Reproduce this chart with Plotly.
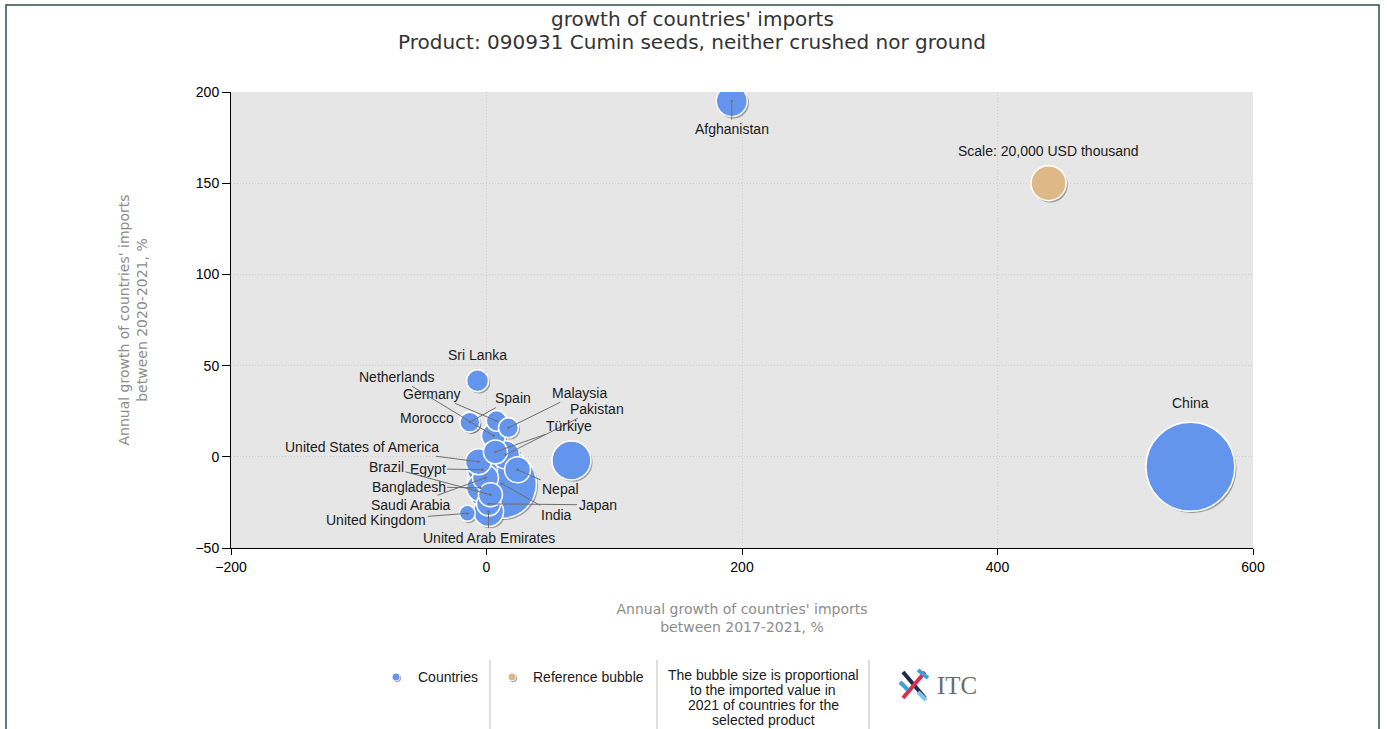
import plotly.graph_objects as go

# growth of countries' imports, cumin seeds (HS 090931)
countries = ["Afghanistan", "China", "Sri Lanka", "Morocco", "Spain", "Germany",
             "Netherlands", "Malaysia", "Pakistan", "Türkiye", "", "India", "Nepal",
             "Japan", "United Arab Emirates", "United Kingdom", "Saudi Arabia",
             "Bangladesh", "Egypt", "United States of America", "Brazil"]
growth_2017_2021 = [192, 551, -7, -13.3, -13, 7.8, 5.5, 17.2, 14.9, 7, 66.5, 12.1, 24.3,
                    1.6, 1.6, -15, -0.8, -4.7, -3.1, -6.3, 3.1]
growth_2020_2021 = [195, -5.5, 41.7, 19.2, 19, 19.7, 11.5, 15.9, 1.1, 2.7, -2, -14.8, -7.1,
                    -25.8, -30, -31, -11.5, -17, -7.1, -2.7, -20.8]
import_value_2021 = [15700, 129300, 7900, 6500, 6500, 6900, 9400, 6500, 12800, 9400, 24800,
                     77700, 11000, 9400, 14700, 4200, 11000, 12800, 14700, 11000, 9400]

ref_label = "Scale: 20,000 USD thousand"
ref_x = [440]
ref_y = [150]
ref_value = [20000]

# label placement: pixel offset of the label from the bubble centre, leader line or not
label_offsets = {
    "Afghanistan": (0, 28, True), "China": (0, -64, False), "Sri Lanka": (0, -26, False),
    "Morocco": (-43, -4, False), "Spain": (43, -24, True), "Germany": (-64, -27, True),
    "Netherlands": (-97, -59, True), "Malaysia": (71, -35, True), "Pakistan": (91, -46, True),
    "Türkiye": (74, -26, True), "India": (55, 31, True), "Nepal": (43, 19, True),
    "Japan": (109, 1, True), "United Arab Emirates": (0, 26, True),
    "United Kingdom": (-91, 7, True), "Saudi Arabia": (-74, 27, True),
    "Bangladesh": (-72, -1, True), "Egypt": (-55, -1, True),
    "United States of America": (-116, -15, True), "Brazil": (-104, -28, True),
}

BLUE = "#6495ED"
TAN = "#DEB887"
SIZEREF = 2 * 20000 / 35 ** 2   # reference bubble ~35 px across

order = sorted(range(len(countries)), key=lambda i: -import_value_2021[i])
xs = [growth_2017_2021[i] for i in order]
ys = [growth_2020_2021[i] for i in order]
vals = [import_value_2021[i] for i in order]
names = [countries[i] for i in order]

fig = go.Figure()

# soft drop shadows
fig.add_trace(go.Scatter(
    x=[v + 1.3 for v in xs + ref_x], y=[v - 1.0 for v in ys + ref_y], mode="markers",
    marker=dict(size=vals + ref_value, sizemode="area", sizeref=SIZEREF, opacity=1,
                color="rgba(70,70,70,0.45)", line=dict(width=0)),
    hoverinfo="skip", showlegend=False))

fig.add_trace(go.Scatter(
    x=xs, y=ys, mode="markers", text=names, name="Countries",
    marker=dict(size=vals, sizemode="area", sizeref=SIZEREF, color=BLUE, opacity=1,
                line=dict(color="white", width=1.5)),
    hovertemplate="%{text}<br>%{x}%, %{y}%<extra></extra>", showlegend=False))

fig.add_trace(go.Scatter(
    x=ref_x, y=ref_y, mode="markers", name="Reference bubble",
    marker=dict(size=ref_value, sizemode="area", sizeref=SIZEREF, color=TAN, opacity=1,
                line=dict(color="white", width=1.5)),
    hoverinfo="skip", showlegend=False))

label_font = dict(family="Liberation Sans, Arial", size=14, color="#1a1a1a")
for c, x, y in zip(countries, growth_2017_2021, growth_2020_2021):
    if c not in label_offsets:
        continue
    ax, ay, arrow = label_offsets[c]
    if arrow:
        fig.add_annotation(x=x, y=y, text=c, showarrow=True, ax=ax, ay=ay,
                           arrowhead=6, arrowsize=0.6, arrowwidth=1, arrowcolor="#6e6e6e",
                           standoff=0, font=label_font)
    else:
        fig.add_annotation(x=x, y=y, text=c, showarrow=False, xshift=ax, yshift=-ay,
                           font=label_font)
fig.add_annotation(x=ref_x[0], y=ref_y[0], text=ref_label, showarrow=False, yshift=32,
                   font=label_font)

# page pixel helpers (body margin is removed by the post script)
W, H = 1387, 729
L, R, T, B = 231, 1253, 92, 548


def px(xp):
    return (xp - L) / (R - L)


def py(yp):
    return (B - yp) / (B - T)


shapes = []
# outer frame
shapes.append(dict(type="rect", xref="paper", yref="paper", x0=px(6), x1=px(1379),
                   y0=py(780), y1=py(5), line=dict(color="#2f4f4f", width=1.5)))
# legend separators
for sx in (490, 657, 869):
    shapes.append(dict(type="line", xref="paper", yref="paper", x0=px(sx), x1=px(sx),
                       y0=py(740), y1=py(660), line=dict(color="#bdbdbd", width=1)))
# legend dots
for cx, col in ((396, BLUE), (512, TAN)):
    shapes.append(dict(type="circle", xref="paper", yref="paper", xsizemode="pixel",
                       ysizemode="pixel", xanchor=px(cx + 1), yanchor=py(678),
                       x0=-4, x1=4, y0=-4, y1=4, fillcolor="#9a9a9a", line=dict(width=0)))
    shapes.append(dict(type="circle", xref="paper", yref="paper", xsizemode="pixel",
                       ysizemode="pixel", xanchor=px(cx), yanchor=py(677),
                       x0=-4, x1=4, y0=-4, y1=4, fillcolor=col,
                       line=dict(color="white", width=0.8)))
# ITC logo mark
for (x0, y0, x1, y1, col) in ((903, 672, 925, 698, "#1f2a4a"), (903, 698, 925, 672, "#d6304f"),
                              (900, 682, 908, 690, "#3ea0d8"), (918, 670, 928, 678, "#3ea0d8"),
                              (918, 692, 926, 700, "#7fc4ea")):
    shapes.append(dict(type="line", xref="paper", yref="paper", x0=px(x0), x1=px(x1),
                       y0=py(y0), y1=py(y1), line=dict(color=col, width=4)))

foot_font = dict(family="Liberation Sans, Arial", size=14, color="#1a1a1a")
annots = [
    dict(x=px(416), y=py(677), text="Countries", xanchor="left"),
    dict(x=px(531), y=py(677), text="Reference bubble", xanchor="left"),
]
note_lines = ["The bubble size is proportional", "to the imported value in",
              "2021 of countries for the", "selected product"]
for k, line in enumerate(note_lines):
    annots.append(dict(x=px(763), y=py(675 + 15 * k), text=line, xanchor="center"))
for a in annots:
    fig.add_annotation(xref="paper", yref="paper", showarrow=False, font=foot_font,
                       yanchor="middle", **a)
fig.add_annotation(xref="paper", yref="paper", x=px(935), y=py(685), xanchor="left",
                   yanchor="middle", text="ITC", showarrow=False,
                   font=dict(family="Liberation Serif, serif", size=25, color="#6b6b6b"))

title_font = dict(family="DejaVu Sans", size=20, color="#333333")
for yy, line in ((19, "growth of countries' imports"),
                 (42, "Product: 090931 Cumin seeds, neither crushed nor ground")):
    fig.add_annotation(xref="paper", yref="paper", x=px(692), y=py(yy), text=line,
                       xanchor="center", yanchor="middle", showarrow=False, font=title_font)

grid = dict(showgrid=True, gridcolor="#cdcdcd", griddash="1px,2px", zeroline=False,
            showline=True, linecolor="black", ticks="outside", tickcolor="black",
            tickfont=dict(family="Liberation Sans, Arial", size=14, color="black"))
fig.update_layout(
    width=W, height=H,
    margin=dict(l=L, r=W - R, t=T, b=H - B),
    paper_bgcolor="white", plot_bgcolor="#e6e6e6",
    shapes=shapes,
    xaxis=dict(range=[-200, 600], dtick=200, ticklen=6, **grid,
               title=dict(text="Annual growth of countries' imports<br>between 2017-2021, %",
                          standoff=30,
                          font=dict(family="DejaVu Sans", size=14, color="#8c8c8c"))),
    yaxis=dict(range=[-50, 200], dtick=50, ticklen=8, **grid,
               title=dict(text="Annual growth of countries' imports<br>between 2020-2021, %",
                          standoff=44,
                          font=dict(family="DejaVu Sans", size=14, color="#8c8c8c"))),
)

fig.write_html("out.html", config={"displayModeBar": False},
               post_script="document.body.style.margin='0';")
